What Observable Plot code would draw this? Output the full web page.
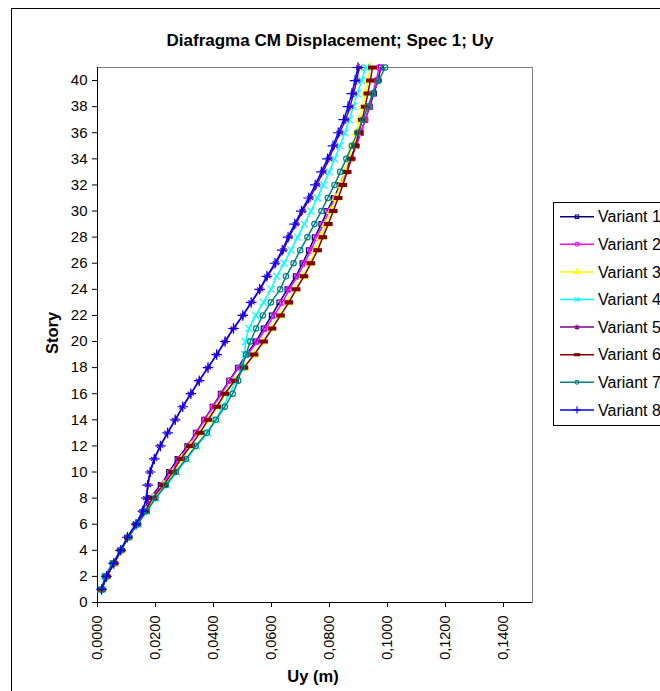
<!DOCTYPE html>
<html>
<head>
<meta charset="utf-8">
<script src="https://cdn.jsdelivr.net/npm/d3@7"></script>
<script src="https://cdn.jsdelivr.net/npm/@observablehq/plot@0.6"></script>
<style>
  html, body { margin: 0; padding: 0; background: #fff; overflow: hidden; }
  #chart { position: relative; width: 660px; height: 691px; }
  #chart svg { display: block; }
</style>
</head>
<body>
<div id="chart"></div>
<script>
// Story numbers (floors) along the vertical axis
const stories = [1, 2, 3, 4, 5, 6, 7, 8, 9, 10, 11, 12, 13, 14, 15, 16, 17, 18, 19, 20,
  21, 22, 23, 24, 25, 26, 27, 28, 29, 30, 31, 32, 33, 34, 35, 36, 37, 38, 39, 40, 41];

const variantNames = ["Variant 1", "Variant 2", "Variant 3", "Variant 4",
  "Variant 5", "Variant 6", "Variant 7", "Variant 8"];
const variantColors = ["#000080", "#FF00FF", "#FFFF00", "#00FFFF",
  "#800080", "#800000", "#008080", "#0000FF"];

// Diaphragm centre-of-mass displacement Uy (m) per story
const uyVariant1 = [0.0014, 0.0029, 0.0055, 0.0080, 0.0104, 0.0132, 0.0160, 0.0180, 0.0218, 0.0247,
  0.0276, 0.0310, 0.0339, 0.0368, 0.0397, 0.0425, 0.0454, 0.0484, 0.0513, 0.0546,
  0.0573, 0.0601, 0.0627, 0.0655, 0.0684, 0.0707, 0.0729, 0.0749, 0.0772, 0.0792,
  0.0815, 0.0836, 0.0854, 0.0873, 0.0891, 0.0908, 0.0923, 0.0939, 0.0953, 0.0967, 0.0977];
const uyVariant2 = [0.0014, 0.0030, 0.0056, 0.0081, 0.0105, 0.0134, 0.0162, 0.0186, 0.0222, 0.0251,
  0.0281, 0.0313, 0.0341, 0.0370, 0.0399, 0.0428, 0.0456, 0.0487, 0.0517, 0.0551,
  0.0580, 0.0609, 0.0638, 0.0661, 0.0690, 0.0713, 0.0736, 0.0756, 0.0779, 0.0799,
  0.0820, 0.0839, 0.0858, 0.0875, 0.0892, 0.0908, 0.0923, 0.0937, 0.0949, 0.0961, 0.0971];
const uyVariant3 = [0.0015, 0.0032, 0.0058, 0.0082, 0.0107, 0.0138, 0.0167, 0.0192, 0.0229, 0.0262,
  0.0291, 0.0323, 0.0355, 0.0384, 0.0413, 0.0442, 0.0474, 0.0507, 0.0541, 0.0572,
  0.0601, 0.0630, 0.0658, 0.0683, 0.0708, 0.0732, 0.0751, 0.0769, 0.0788, 0.0805,
  0.0822, 0.0838, 0.0853, 0.0866, 0.0880, 0.0892, 0.0904, 0.0915, 0.0924, 0.0933, 0.0940];
const uyVariant4 = [0.0014, 0.0027, 0.0053, 0.0080, 0.0106, 0.0137, 0.0170, 0.0201, 0.0239, 0.0273,
  0.0308, 0.0342, 0.0380, 0.0408, 0.0432, 0.0456, 0.0477, 0.0497, 0.0508, 0.0510,
  0.0522, 0.0546, 0.0572, 0.0598, 0.0618, 0.0643, 0.0667, 0.0690, 0.0713, 0.0736,
  0.0758, 0.0779, 0.0799, 0.0818, 0.0836, 0.0853, 0.0868, 0.0882, 0.0896, 0.0911, 0.0925];
const uyVariant5 = [0.0014, 0.0032, 0.0057, 0.0080, 0.0103, 0.0133, 0.0155, 0.0168, 0.0174, 0.0181,
  0.0195, 0.0216, 0.0241, 0.0268, 0.0293, 0.0322, 0.0350, 0.0381, 0.0411, 0.0439,
  0.0469, 0.0502, 0.0531, 0.0561, 0.0586, 0.0615, 0.0641, 0.0661, 0.0684, 0.0707,
  0.0733, 0.0756, 0.0778, 0.0798, 0.0817, 0.0835, 0.0856, 0.0871, 0.0883, 0.0894, 0.0902];
const uyVariant6 = [0.0015, 0.0031, 0.0057, 0.0081, 0.0106, 0.0136, 0.0165, 0.0190, 0.0228, 0.0259,
  0.0287, 0.0321, 0.0353, 0.0381, 0.0411, 0.0439, 0.0473, 0.0505, 0.0540, 0.0573,
  0.0602, 0.0631, 0.0660, 0.0685, 0.0712, 0.0736, 0.0759, 0.0777, 0.0796, 0.0813,
  0.0830, 0.0846, 0.0861, 0.0875, 0.0889, 0.0901, 0.0913, 0.0923, 0.0932, 0.0941, 0.0948];
const uyVariant7 = [0.0015, 0.0025, 0.0052, 0.0079, 0.0106, 0.0138, 0.0170, 0.0200, 0.0236, 0.0270,
  0.0305, 0.0339, 0.0377, 0.0408, 0.0439, 0.0466, 0.0485, 0.0498, 0.0512, 0.0527,
  0.0547, 0.0570, 0.0598, 0.0630, 0.0650, 0.0676, 0.0699, 0.0724, 0.0748, 0.0772,
  0.0794, 0.0817, 0.0837, 0.0858, 0.0877, 0.0896, 0.0915, 0.0932, 0.0949, 0.0970, 0.0992];
const uyVariant8 = [0.0014, 0.0031, 0.0056, 0.0080, 0.0103, 0.0133, 0.0156, 0.0169, 0.0173, 0.0182,
  0.0196, 0.0217, 0.0242, 0.0268, 0.0294, 0.0322, 0.0351, 0.0381, 0.0411, 0.0440,
  0.0469, 0.0501, 0.0530, 0.0559, 0.0584, 0.0612, 0.0637, 0.0657, 0.0680, 0.0703,
  0.0728, 0.0751, 0.0772, 0.0793, 0.0812, 0.0830, 0.0849, 0.0864, 0.0877, 0.0888, 0.0898];

const xTickValues = [0, 0.02, 0.04, 0.06, 0.08, 0.10, 0.12, 0.14];
const yTickValues = [0, 2, 4, 6, 8, 10, 12, 14, 16, 18, 20, 22, 24, 26, 28, 30, 32, 34, 36, 38, 40];

const chartTitle = "Diafragma CM Displacement; Spec 1; Uy";
const xTitle = "Uy (m)";
const yTitle = "Story";

// ---------------------------------------------------------------------------
const seriesValues = [uyVariant1, uyVariant2, uyVariant3, uyVariant4,
  uyVariant5, uyVariant6, uyVariant7, uyVariant8];

// Short filled horizontal bar used as a marker
const barSymbol = {
  draw(context, size) {
    const w = Math.sqrt(size) * 1.35, h = w * 0.38;
    context.moveTo(-w / 2, -h / 2);
    context.lineTo(w / 2, -h / 2);
    context.lineTo(w / 2, h / 2);
    context.lineTo(-w / 2, h / 2);
    context.closePath();
  }
};

// Marker per series: symbol for Plot.dot and the matching d3 symbol for the legend
const markerStyles = [
  {symbol: "square", d3sym: d3.symbolSquare, filled: false, r: 2.7},
  {symbol: "circle", d3sym: d3.symbolCircle, filled: false, r: 2.7},
  {symbol: "triangle", d3sym: d3.symbolTriangle, filled: false, r: 2.9},
  {symbol: "times", d3sym: d3.symbolTimes, filled: false, r: 3.3},
  {symbol: "asterisk", d3sym: d3.symbolAsterisk, filled: false, r: 3.5},
  {symbol: barSymbol, d3sym: barSymbol, filled: true, r: 3.1},
  {symbol: "circle", d3sym: d3.symbolCircle, filled: false, r: 2.7},
  {symbol: "plus", d3sym: d3.symbolPlus, filled: false, r: 3.5}
];

const series = variantNames.map((name, i) => ({
  name,
  color: variantColors[i],
  marker: markerStyles[i],
  rows: stories.map((story, j) => ({variant: name, story, uy: seriesValues[i][j]}))
}));

const fmtComma = d => d3.format(".4f")(d).replace(".", ",");
const font = "'Liberation Sans', Arial, Helvetica, sans-serif";

const W = 660, H = 691;
const margin = {left: 97, right: 128, top: 67, bottom: 89};

const seriesMarks = series.flatMap(s => [
  Plot.line(s.rows, {x: "uy", y: "story", stroke: s.color, strokeWidth: 1.5}),
  Plot.dot(s.rows, {
    x: "uy", y: "story",
    symbol: s.marker.symbol, r: s.marker.r,
    stroke: s.color, strokeWidth: 1.2,
    fill: s.marker.filled ? s.color : "none"
  })
]);

const plot = Plot.plot({
  width: W,
  height: H,
  marginLeft: margin.left,
  marginRight: margin.right,
  marginTop: margin.top,
  marginBottom: margin.bottom,
  style: {fontFamily: font, fontSize: "14px", color: "#000", background: "transparent", overflow: "visible"},
  x: {domain: [0, 0.15]},
  y: {domain: [0, 41]},
  marks: [
    Plot.frame({stroke: "#808080"}),
    Plot.ruleX([0], {stroke: "#000"}),
    Plot.ruleY([0], {stroke: "#000"}),
    Plot.axisY({ticks: yTickValues, tickSize: 5, tickPadding: 5, fontSize: 15, label: null}),
    Plot.axisX({ticks: xTickValues, tickSize: 5, tickPadding: 8, tickRotate: -90,
      tickFormat: fmtComma, fontSize: 14.5, label: null}),
    ...seriesMarks
  ]
});

document.getElementById("chart").appendChild(plot);

// Chart frame, titles and legend
const svg = d3.select(plot);

svg.insert("rect", ":first-child")
  .attr("x", 11.5).attr("y", 8.5)
  .attr("width", 800).attr("height", 800)
  .attr("fill", "none").attr("stroke", "#000").attr("stroke-width", 1);

svg.append("text")
  .attr("x", 330).attr("y", 46)
  .attr("text-anchor", "middle")
  .attr("font-family", font).attr("font-size", 17).attr("font-weight", "bold")
  .text(chartTitle);

svg.append("text")
  .attr("x", 313).attr("y", 682)
  .attr("text-anchor", "middle")
  .attr("font-family", font).attr("font-size", 16.5).attr("font-weight", "bold")
  .text(xTitle);

svg.append("text")
  .attr("transform", "translate(58,333) rotate(-90)")
  .attr("text-anchor", "middle")
  .attr("font-family", font).attr("font-size", 16.5).attr("font-weight", "bold")
  .text(yTitle);

const legend = svg.append("g");
const lg = {x: 553.5, y: 202.5, w: 200, h: 223, row0: 216.7, step: 27.6};
legend.append("rect")
  .attr("x", lg.x).attr("y", lg.y).attr("width", lg.w).attr("height", lg.h)
  .attr("fill", "#fff").attr("stroke", "#000");

series.forEach((s, i) => {
  const cy = lg.row0 + i * lg.step;
  const row = legend.append("g");
  row.append("line")
    .attr("x1", 560).attr("x2", 594).attr("y1", cy).attr("y2", cy)
    .attr("stroke", s.color).attr("stroke-width", 1.5);
  const rl = s.marker.r * 0.7;
  row.append("path")
    .attr("transform", `translate(577,${cy})`)
    .attr("d", d3.symbol(s.marker.d3sym, rl * rl * Math.PI)())
    .attr("stroke", s.color).attr("stroke-width", 1.1)
    .attr("fill", s.marker.filled ? s.color : "none");
  row.append("text")
    .attr("x", 598).attr("y", cy).attr("dy", "0.36em")
    .attr("text-anchor", "start")
    .attr("font-family", font).attr("font-size", 16)
    .text(s.name);
});
</script>
</body>
</html>
